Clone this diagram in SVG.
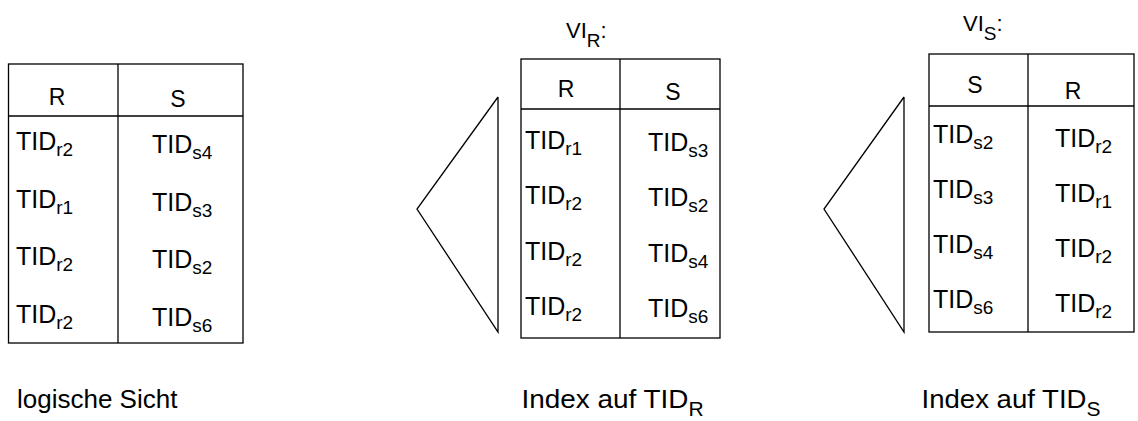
<svg xmlns="http://www.w3.org/2000/svg" width="1138" height="421" viewBox="0 0 1138 421">
<style>
text{font-family:"Liberation Sans",Arial,sans-serif;fill:#000}
.h{font-size:23px}
.v{font-size:22px}
.c{font-size:25px}
.sub{font-size:19px}
.lbl{font-size:25px}
.lsub{font-size:21px}
.box{fill:none;stroke:#000;stroke-width:1.3}
</style>
<rect width="1138" height="421" fill="#fff"/>
<g id="table-logisch">
<rect class="box" x="8.5" y="64" width="234.5" height="279"/>
<line class="box" x1="118" y1="64" x2="118" y2="343"/>
<line class="box" x1="8.5" y1="116" x2="243" y2="116"/>
<text class="h" x="57" y="105" text-anchor="middle">R</text>
<text class="h" x="178" y="107" text-anchor="middle">S</text>
<text class="c" x="16" y="150">TID<tspan class="sub" dy="6">r2</tspan></text>
<text class="c" x="16" y="208">TID<tspan class="sub" dy="6">r1</tspan></text>
<text class="c" x="16" y="265">TID<tspan class="sub" dy="6">r2</tspan></text>
<text class="c" x="16" y="323">TID<tspan class="sub" dy="6">r2</tspan></text>
<text class="c" x="152" y="153">TID<tspan class="sub" dy="6">s4</tspan></text>
<text class="c" x="152" y="211">TID<tspan class="sub" dy="6">s3</tspan></text>
<text class="c" x="152" y="268">TID<tspan class="sub" dy="6">s2</tspan></text>
<text class="c" x="152" y="326">TID<tspan class="sub" dy="6">s6</tspan></text>
</g>
<g id="index-r">
<polyline class="box" points="498,97 417,209 498,332 498,97"/>
<text class="v" x="566" y="38">VI<tspan class="sub" dy="9">R</tspan><tspan dy="-9">:</tspan></text>
<rect class="box" x="521" y="59" width="199" height="279"/>
<line class="box" x1="620" y1="59" x2="620" y2="338"/>
<line class="box" x1="521" y1="109" x2="720" y2="109"/>
<text class="h" x="566" y="97" text-anchor="middle">R</text>
<text class="h" x="673" y="100" text-anchor="middle">S</text>
<text class="c" x="525" y="149">TID<tspan class="sub" dy="6">r1</tspan></text>
<text class="c" x="525" y="204">TID<tspan class="sub" dy="6">r2</tspan></text>
<text class="c" x="525" y="260">TID<tspan class="sub" dy="6">r2</tspan></text>
<text class="c" x="525" y="315">TID<tspan class="sub" dy="6">r2</tspan></text>
<text class="c" x="648" y="151">TID<tspan class="sub" dy="6">s3</tspan></text>
<text class="c" x="648" y="206">TID<tspan class="sub" dy="6">s2</tspan></text>
<text class="c" x="648" y="262">TID<tspan class="sub" dy="6">s4</tspan></text>
<text class="c" x="648" y="317">TID<tspan class="sub" dy="6">s6</tspan></text>
</g>
<g id="index-s">
<polyline class="box" points="904,97 824,209 904,332 904,97"/>
<text class="v" x="963" y="31">VI<tspan class="sub" dy="9">S</tspan><tspan dy="-9">:</tspan></text>
<rect class="box" x="929" y="54" width="205" height="278"/>
<line class="box" x1="1028" y1="54" x2="1028" y2="332"/>
<line class="box" x1="929" y1="106" x2="1134" y2="106"/>
<text class="h" x="975" y="93" text-anchor="middle">S</text>
<text class="h" x="1073" y="99" text-anchor="middle">R</text>
<text class="c" x="933" y="143">TID<tspan class="sub" dy="6">s2</tspan></text>
<text class="c" x="933" y="198">TID<tspan class="sub" dy="6">s3</tspan></text>
<text class="c" x="933" y="253">TID<tspan class="sub" dy="6">s4</tspan></text>
<text class="c" x="933" y="308">TID<tspan class="sub" dy="6">s6</tspan></text>
<text class="c" x="1055" y="147">TID<tspan class="sub" dy="6">r2</tspan></text>
<text class="c" x="1055" y="202">TID<tspan class="sub" dy="6">r1</tspan></text>
<text class="c" x="1055" y="257">TID<tspan class="sub" dy="6">r2</tspan></text>
<text class="c" x="1055" y="312">TID<tspan class="sub" dy="6">r2</tspan></text>
</g>
<g id="labels">
<text class="lbl" x="17" y="408" style="font-size:26px">logische Sicht</text>
<text class="lbl" x="521.5" y="408"><tspan textLength="167" lengthAdjust="spacingAndGlyphs">Index auf TID</tspan><tspan class="lsub" dy="8">R</tspan></text>
<text class="lbl" x="921.5" y="408"><tspan textLength="165" lengthAdjust="spacingAndGlyphs">Index auf TID</tspan><tspan class="lsub" dy="8">S</tspan></text>
</g>
</svg>
